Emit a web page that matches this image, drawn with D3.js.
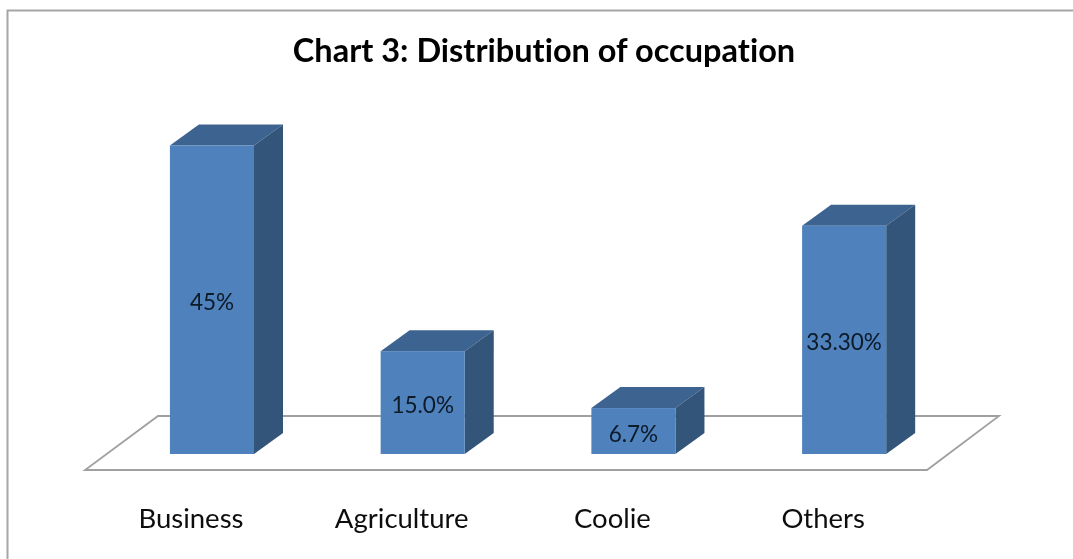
<!DOCTYPE html>
<html><head><meta charset="utf-8">
<script src="https://cdn.jsdelivr.net/npm/d3@7"></script>
<style>html,body{margin:0;padding:0;background:#fff}svg{display:block}text{font-family:Lato,"Open Sans",sans-serif;font-variant-ligatures:none}</style>
</head><body><svg id="c" width="1073" height="559"></svg>
<script>
const categories = ["Business","Agriculture","Coolie","Others"];
const values = [45, 15.0, 6.7, 33.3];
const valueLabels = ["45%","15.0%","6.7%","33.30%"];
const titleText = "Chart 3: Distribution of occupation";

const W = 1073, H = 559;
const depthX = 29, depthY = -21;
const svg = d3.select("#c");
const defs = svg.append("defs");
defs.append("filter").attr("id","soft")
  .attr("filterUnits","userSpaceOnUse").attr("x",0).attr("y",0).attr("width",W).attr("height",H)
  .append("feGaussianBlur").attr("stdDeviation",0.5);
const root = svg.append("g").attr("filter","url(#soft)");

const x = d3.scaleBand().domain(categories).range([106.7, 949.4]).paddingInner(0.601).paddingOuter(0.3);
const y = d3.scaleLinear().domain([0,45]).range([454,145.5]);

// frame: left and top edges only, the right edge falls outside the picture
root.append("path").attr("d",`M7.5,${H}V10.5H${W}`).attr("fill","none").attr("stroke","#a6a6a6").attr("stroke-width",2);

// floor
const floor = d3.path();
floor.moveTo(85,470); floor.lineTo(927,470); floor.lineTo(999,416); floor.lineTo(158,416); floor.closePath();
root.append("path").attr("d",floor.toString()).attr("fill","#fff").attr("stroke","#a0a0a0").attr("stroke-width",1.8);

// bars
const bars = root.selectAll("g.bar").data(categories.map((c,i)=>({c,v:values[i],l:valueLabels[i]}))).join("g").attr("class","bar");
const x0 = d=>x(d.c), x1 = d=>x(d.c)+x.bandwidth();
bars.append("path").attr("fill","#3d6390").attr("d",d=>{
  const p=d3.path(),t=y(d.v);
  p.moveTo(x0(d),t);p.lineTo(x0(d)+depthX,t+depthY);p.lineTo(x1(d)+depthX,t+depthY);p.lineTo(x1(d),t);p.closePath();return p.toString();});
bars.append("path").attr("fill","#325479").attr("d",d=>{
  const p=d3.path(),t=y(d.v),b=y(0);
  p.moveTo(x1(d),t);p.lineTo(x1(d)+depthX,t+depthY);p.lineTo(x1(d)+depthX,b+depthY);p.lineTo(x1(d),b);p.closePath();return p.toString();});
bars.append("rect").attr("fill","#4f81bd").attr("x",x0).attr("y",d=>y(d.v)).attr("width",x.bandwidth()).attr("height",d=>y(0)-y(d.v));

bars.append("text").text(d=>d.l).attr("x",d=>x0(d)+x.bandwidth()/2).attr("y",d=>(y(d.v)+y(0))/2+10.5)
  .attr("text-anchor","middle").attr("font-size",22.5).attr("fill","#0c1a28");

// category labels
root.selectAll("text.cat").data(categories).join("text").attr("class","cat").text(d=>d)
  .attr("x",d=>x(d)+x.bandwidth()/2-21).attr("y",527.5).attr("text-anchor","middle").attr("font-size",27.5).attr("fill","#111");

root.append("text").text(titleText).attr("x",544).attr("y",61.5).attr("text-anchor","middle")
  .attr("font-size",32.5).attr("font-weight",700).attr("fill","#000");
</script></body></html>
